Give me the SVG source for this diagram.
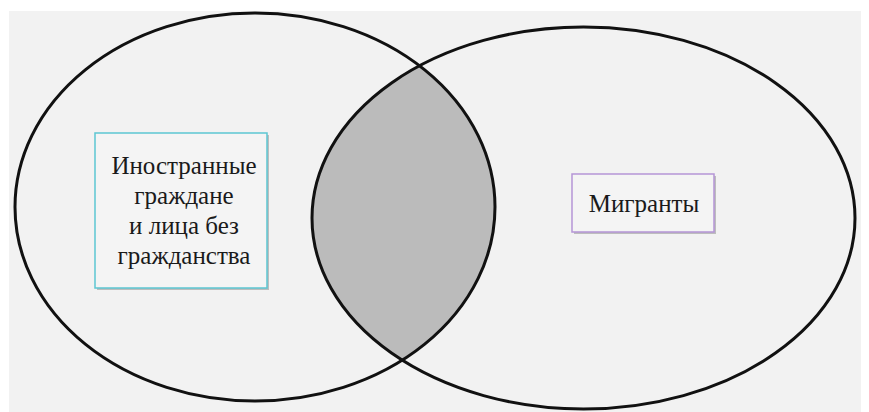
<svg xmlns="http://www.w3.org/2000/svg" width="869" height="412" viewBox="0 0 869 412">
<style>
.ring{fill:none;stroke:#111;stroke-width:3}
.lbl{font-family:"Liberation Serif","Times New Roman","DejaVu Serif",serif;font-size:25px;fill:#1a1a1a;text-anchor:middle}
.shadow{fill:#9a9a9a;opacity:0.6}
</style>
<defs>
<clipPath id="clipR"><ellipse cx="583.5" cy="218" rx="271.5" ry="191"/></clipPath>
</defs>
<rect x="0" y="0" width="869" height="412" fill="#ffffff"/>
<rect x="9" y="11" width="852" height="401" fill="#f2f2f2"/>
<g id="intersection">
<ellipse cx="255" cy="207" rx="240" ry="194" fill="#bbbbbb" clip-path="url(#clipR)"/>
</g>
<g id="connectors">
<ellipse id="set-left" class="ring" cx="255" cy="207" rx="240" ry="194"/>
<ellipse id="set-right" class="ring" cx="583.5" cy="218" rx="271.5" ry="191"/>
</g>
<g id="node-foreigners">
<rect class="shadow" x="97" y="135" width="172" height="155"/>
<rect x="95" y="133" width="172" height="155" fill="#f4f4f4" stroke="#5cc6d2" stroke-width="1.5"/>
<text class="lbl" x="184" y="174">Иностранные</text>
<text class="lbl" x="184" y="204">граждане</text>
<text class="lbl" x="184" y="234">и лица без</text>
<text class="lbl" x="184" y="264">гражданства</text>
</g>
<g id="node-migrants">
<rect class="shadow" x="574" y="176" width="142" height="58"/>
<rect x="572" y="174" width="142" height="58" fill="#f4f4f4" stroke="#b595d6" stroke-width="1.5"/>
<text class="lbl" x="644" y="212">Мигранты</text>
</g>
</svg>
